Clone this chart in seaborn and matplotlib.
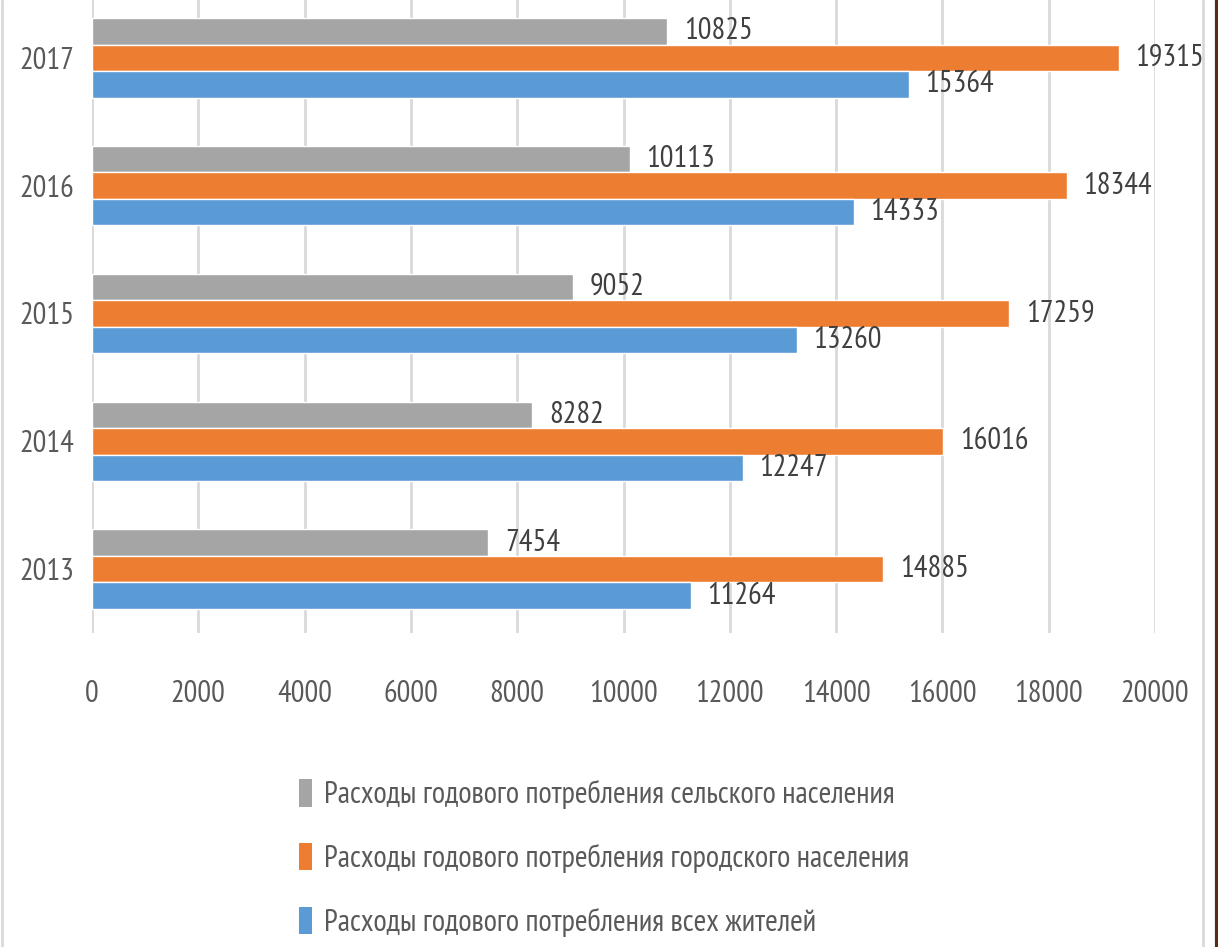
import matplotlib
matplotlib.use("Agg")
import matplotlib.pyplot as plt
import pandas as pd
import seaborn as sns
from matplotlib.patches import Patch
from matplotlib.lines import Line2D

years = ["2017", "2016", "2015", "2014", "2013"]
rural = [10825, 10113, 9052, 8282, 7454]
urban = [19315, 18344, 17259, 16016, 14885]
all_people = [15364, 14333, 13260, 12247, 11264]

series_names = [
    "Расходы годового потребления сельского населения",
    "Расходы годового потребления городского населения",
    "Расходы годового потребления всех жителей",
]
colors = ["#A5A5A5", "#ED7D31", "#5B9BD5"]

sns.set_style("white")
plt.rcParams["font.family"] = ["PT Sans Narrow", "DejaVu Sans"]
TEXT = "#595959"
FS = 22

df = pd.DataFrame({
    "year": years * 3,
    "value": rural + urban + all_people,
    "series": [series_names[0]] * 5 + [series_names[1]] * 5 + [series_names[2]] * 5,
})

fig = plt.figure(figsize=(12.18, 9.47), dpi=100)
ax = fig.add_axes([92 / 1218, 1 - 633 / 947, (1155 - 92) / 1218, 639 / 947])

sns.barplot(data=df, x="value", y="year", hue="series", order=years,
            hue_order=series_names, palette=colors, orient="h",
            width=0.62, gap=0, saturation=1, legend=False, ax=ax)

# value labels next to the bar ends
for cont in ax.containers:
    ax.bar_label(cont, padding=12, fontsize=FS, color="#404040")

ax.set_xlim(0, 20000)
ax.set_ylim(4.5, -0.5)
ax.set_xticks(range(0, 20001, 2000))
ax.xaxis.grid(True, color="#D9D9D9", linewidth=2)
ax.set_axisbelow(True)
for s in ax.spines.values():
    s.set_visible(False)
ax.tick_params(axis="x", length=0, pad=34, labelsize=FS, labelcolor=TEXT)
ax.tick_params(axis="y", length=0, pad=13, labelsize=FS, labelcolor=TEXT)
ax.set_xlabel("")
ax.set_ylabel("")

handles = [Patch(facecolor=c, edgecolor="none") for c in colors]
fig.legend(handles, series_names, loc="center", bbox_to_anchor=(0.496, 0.094),
           frameon=False, fontsize=FS, labelcolor=TEXT, handlelength=0.4,
           handleheight=1.0, handletextpad=0.4, labelspacing=1.1)

# frame edges of the slide
fig.add_artist(Line2D([2 / 1218, 2 / 1218], [0, 1], color="#D9D9D9", linewidth=2))
fig.add_artist(Line2D([1203 / 1218, 1203 / 1218], [0, 1], color="#D9D9D9", linewidth=2))
fig.add_artist(Line2D([1216.5 / 1218, 1216.5 / 1218], [0, 1], color="#5A2A14", linewidth=3))

fig.savefig("out.png", dpi=100)
